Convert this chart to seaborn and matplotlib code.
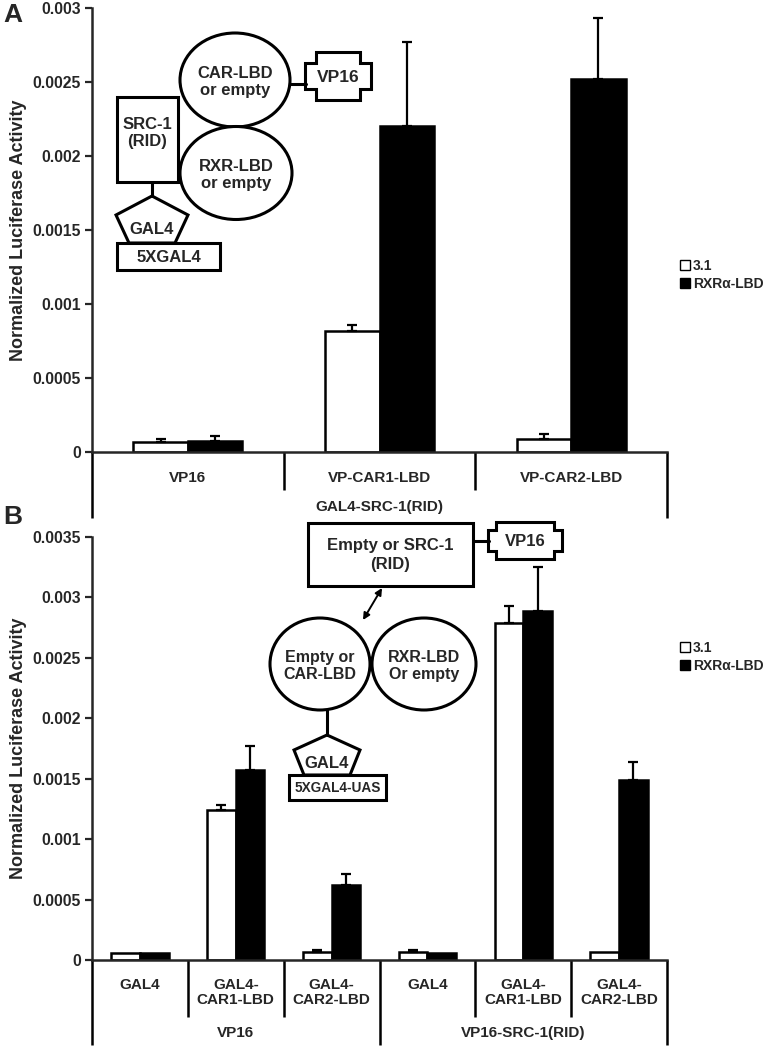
import numpy as np
import pandas as pd
import matplotlib
matplotlib.use("Agg")
import matplotlib.pyplot as plt
import matplotlib.transforms as mtransforms
from matplotlib.patches import Ellipse, Rectangle, Polygon, Patch, FancyArrowPatch
from matplotlib.ticker import FuncFormatter, MultipleLocator
import seaborn as sns

# ---------------- data ----------------
series = ["3.1", "RXRα-LBD"]

A_cats = ["VP16", "VP-CAR1-LBD", "VP-CAR2-LBD"]
A_empty = [0.00007, 0.00082, 0.00009]
A_empty_err = [0.00002, 0.00004, 0.00003]
A_rxr = [0.000075, 0.0022, 0.00252]
A_rxr_err = [0.00003, 0.00057, 0.00041]
A_group_label = "GAL4-SRC-1(RID)"

B_keys = ["VP16 GAL4", "VP16 CAR1", "VP16 CAR2", "SRC GAL4", "SRC CAR1", "SRC CAR2"]
B_ticklabels = ["GAL4", "GAL4-\nCAR1-LBD", "GAL4-\nCAR2-LBD",
                "GAL4", "GAL4-\nCAR1-LBD", "GAL4-\nCAR2-LBD"]
B_empty = [0.000055, 0.00124, 0.00007, 0.00007, 0.00279, 0.00007]
B_empty_err = [0.0, 0.00004, 0.000014, 0.000014, 0.00014, 0.0]
B_rxr = [0.00006, 0.00157, 0.00062, 0.00006, 0.00289, 0.00149]
B_rxr_err = [0.0, 0.0002, 0.00009, 0.0, 0.00036, 0.00015]
B_groups = ["VP16", "VP16-SRC-1(RID)"]

# ---------------- style ----------------
sns.set_style("ticks")
plt.rcParams["font.family"] = ["Liberation Sans", "DejaVu Sans"]
plt.rcParams["font.weight"] = "bold"
plt.rcParams["axes.linewidth"] = 1.8

W, H = 783, 1050
fig = plt.figure(figsize=(W / 100, H / 100), dpi=100)


def px_axes(left, right, top, bottom):
    return fig.add_axes([left / W, 1 - bottom / H, (right - left) / W, (bottom - top) / H])


def build_df(cats, v1, v2):
    return pd.DataFrame({
        "cat": list(cats) * 2,
        "val": list(v1) + list(v2),
        "series": [series[0]] * len(cats) + [series[1]] * len(cats),
    })


def draw_bars(ax, cats, v1, e1, v2, e2, width):
    df = build_df(cats, v1, v2)
    sns.barplot(data=df, x="cat", y="val", hue="series", order=cats, hue_order=series,
                palette=["white", "black"], edgecolor="black", linewidth=1.8,
                width=width, errorbar=None, ax=ax, legend=False, saturation=1)
    for cont, errs in zip(ax.containers, [e1, e2]):
        for bar, err in zip(cont, errs):
            if err <= 0:
                continue
            xc = bar.get_x() + bar.get_width() / 2
            yt = bar.get_height()
            ax.errorbar([xc], [yt], yerr=[[0], [err]], fmt="none", ecolor="black",
                        elinewidth=1.6, capsize=3.5, capthick=1.6, zorder=1)


def style_axis(ax, n, ymax, step):
    ax.set_xlim(-0.5, n - 0.5)
    ax.set_ylim(0, ymax)
    ax.yaxis.set_major_locator(MultipleLocator(step))
    ax.yaxis.set_major_formatter(FuncFormatter(lambda v, p: "0" if v == 0 else "%g" % v))
    ax.tick_params(axis="y", direction="out", length=5, width=1.6, labelsize=11.3, pad=3)
    for t in ax.get_yticklabels():
        t.set_fontweight("bold")
    ax.set_xlabel("")
    ax.set_ylabel("Normalized Luciferase Activity", fontsize=13, fontweight="bold", labelpad=4)
    sns.despine(ax=ax)


def vline(ax, x, y0, y1):
    tr = mtransforms.blended_transform_factory(ax.transData, ax.transAxes)
    ax.plot([x, x], [y0, y1], color="black", lw=1.8, transform=tr, clip_on=False,
            solid_capstyle="butt")


# ---------------- Panel A ----------------
axA = px_axes(92, 667, 8, 452)
draw_bars(axA, A_cats, A_empty, A_empty_err, A_rxr, A_rxr_err, width=0.57)
style_axis(axA, len(A_cats), 0.003, 0.0005)
axA.set_xticks(range(len(A_cats)))
axA.set_xticklabels(A_cats, fontsize=11, fontweight="bold")
axA.tick_params(axis="x", length=0, pad=14)
hA = 444.0
vline(axA, -0.5, 0, -(518 - 452) / hA)
vline(axA, len(A_cats) - 0.5, 0, -(518 - 452) / hA)
for k in range(1, len(A_cats)):
    vline(axA, k - 0.5, 0, -(490 - 452) / hA)
trA = mtransforms.blended_transform_factory(axA.transData, axA.transAxes)
axA.text((len(A_cats) - 1) / 2, -(507 - 452) / hA, A_group_label, transform=trA,
         ha="center", va="center", fontsize=11, fontweight="bold")

# ---------------- Panel B ----------------
axB = px_axes(92, 667, 537, 960)
draw_bars(axB, B_keys, B_empty, B_empty_err, B_rxr, B_rxr_err, width=0.6)
style_axis(axB, len(B_keys), 0.0035, 0.0005)
axB.set_xticks(range(len(B_keys)))
axB.set_xticklabels(B_ticklabels, fontsize=11, fontweight="bold", linespacing=1.05, va="top")
axB.tick_params(axis="x", length=0, pad=13)
hB = 423.0
vline(axB, -0.5, 0, -(1045 - 960) / hB)
vline(axB, len(B_keys) - 0.5, 0, -(1045 - 960) / hB)
for k in range(1, len(B_keys)):
    if k == 3:
        vline(axB, k - 0.5, 0, -(1045 - 960) / hB)
    else:
        vline(axB, k - 0.5, 0, -(1017 - 960) / hB)
trB = mtransforms.blended_transform_factory(axB.transData, axB.transAxes)
for gi, g in enumerate(B_groups):
    axB.text(gi * 3 + 1, -(1033 - 960) / hB, g, transform=trB,
             ha="center", va="center", fontsize=11, fontweight="bold")

# ---------------- legends ----------------
handles = [Patch(facecolor="white", edgecolor="black", linewidth=1.0),
           Patch(facecolor="black", edgecolor="black", linewidth=1.0)]
for ytop in (259, 641):
    fig.legend(handles, series, loc="upper left", bbox_to_anchor=(680 / W, 1 - ytop / H),
               frameon=False, handlelength=0.7, handleheight=0.7,
               handletextpad=0.25, labelspacing=0.3, borderpad=0, borderaxespad=0,
               prop={"weight": "bold", "size": 10})

# ---------------- overlay: panel letters and schematics ----------------
ov = fig.add_axes([0, 0, 1, 1], zorder=5)
ov.set_xlim(0, W)
ov.set_ylim(H, 0)
ov.axis("off")

ov.text(3, 15, "A", fontsize=19, fontweight="bold", ha="left", va="center")
ov.text(3, 517, "B", fontsize=19, fontweight="bold", ha="left", va="center")

LW = 2.2
fs = 12


def vp16_shape(cx, cy, w, h, inset, notch, size):
    x0, x1 = cx - w / 2, cx + w / 2
    y0, y1 = cy - h / 2, cy + h / 2
    pts = [(x0 + inset, y0), (x1 - inset, y0), (x1 - inset, y0 + notch), (x1, y0 + notch),
           (x1, y1 - notch), (x1 - inset, y1 - notch), (x1 - inset, y1), (x0 + inset, y1),
           (x0 + inset, y1 - notch), (x0, y1 - notch), (x0, y0 + notch), (x0 + inset, y0 + notch)]
    ov.add_patch(Polygon(pts, closed=True, fc="white", ec="black", lw=LW))
    ov.text(cx, cy + 1, "VP16", ha="center", va="center", fontsize=size, fontweight="bold")


def pentagon(cx, ytop, wmid, ymid, wbot, ybot):
    pts = [(cx, ytop), (cx + wmid / 2, ymid), (cx + wbot / 2, ybot),
           (cx - wbot / 2, ybot), (cx - wmid / 2, ymid)]
    ov.add_patch(Polygon(pts, closed=True, fc="white", ec="black", lw=LW))
    ov.text(cx, (ymid + ybot) / 2 + 1, "GAL4", ha="center", va="center", fontsize=fs, fontweight="bold")


# Panel A schematic
ov.plot([290, 306], [84, 84], color="black", lw=LW)
ov.add_patch(Ellipse((235, 80), 110, 94, fc="white", ec="black", lw=LW))
ov.text(235, 82, "CAR-LBD\nor empty", ha="center", va="center", fontsize=fs, fontweight="bold", linespacing=1.15)
ov.add_patch(Ellipse((236, 173), 112, 93, fc="white", ec="black", lw=LW))
ov.text(236, 175, "RXR-LBD\nor empty", ha="center", va="center", fontsize=fs, fontweight="bold", linespacing=1.15)
ov.add_patch(Rectangle((117, 97), 61, 85, fc="white", ec="black", lw=LW))
ov.text(147.5, 133, "SRC-1\n(RID)", ha="center", va="center", fontsize=fs, fontweight="bold", linespacing=1.15)
vp16_shape(338, 76, 66, 48, 11, 11, 12.5)
ov.plot([152, 152], [182, 196], color="black", lw=LW)
pentagon(152, 196, 72, 215, 46, 243)
ov.add_patch(Rectangle((117, 243), 103, 27, fc="white", ec="black", lw=LW))
ov.text(168.5, 257, "5XGAL4", ha="center", va="center", fontsize=fs, fontweight="bold")

# Panel B schematic
ov.plot([473, 489], [541, 541], color="black", lw=LW)
ov.add_patch(Rectangle((308, 523), 165, 63, fc="white", ec="black", lw=LW))
ov.text(390.5, 555, "Empty or SRC-1\n(RID)", ha="center", va="center", fontsize=12,
        fontweight="bold", linespacing=1.3)
vp16_shape(525, 540, 74, 37, 8, 8, 12)
ov.add_patch(FancyArrowPatch((382, 588), (363, 620), arrowstyle="<|-|>", mutation_scale=10,
                             color="black", lw=1.4, shrinkA=0, shrinkB=0))
ov.add_patch(Ellipse((320, 664), 100, 92, fc="white", ec="black", lw=LW))
ov.text(320, 666, "Empty or\nCAR-LBD", ha="center", va="center", fontsize=11.5, fontweight="bold", linespacing=1.15)
ov.add_patch(Ellipse((424, 664), 104, 92, fc="white", ec="black", lw=LW))
ov.text(424, 666, "RXR-LBD\nOr empty", ha="center", va="center", fontsize=11.5, fontweight="bold", linespacing=1.15)
ov.plot([327, 327], [710, 735], color="black", lw=LW)
pentagon(327, 735, 66, 750, 46, 775)
ov.add_patch(Rectangle((289, 775), 97, 25, fc="white", ec="black", lw=LW))
ov.text(337.5, 788, "5XGAL4-UAS", ha="center", va="center", fontsize=9.8, fontweight="bold")

fig.savefig("out.png", dpi=100)
